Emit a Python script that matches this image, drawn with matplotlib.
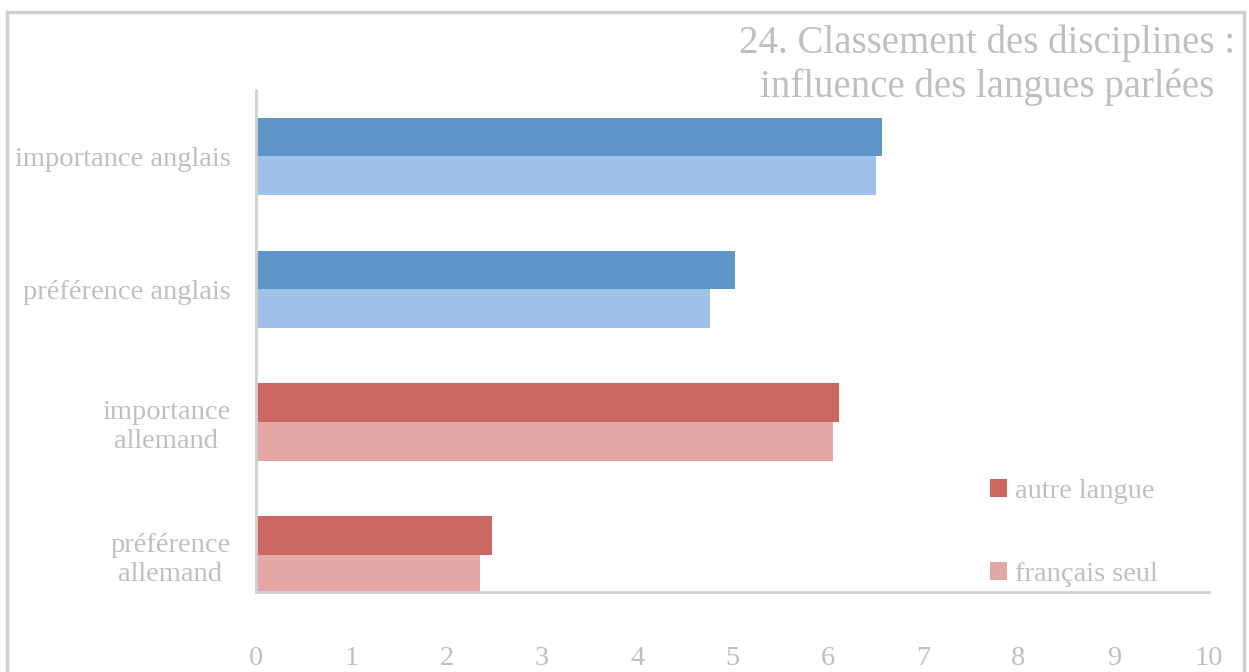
import matplotlib
matplotlib.use("Agg")
import matplotlib.pyplot as plt
from matplotlib.patches import Rectangle
import numpy as np

categories = ["préférence\nallemand", "importance\nallemand", "préférence anglais", "importance anglais"]
autre_langue = [2.48, 6.12, 5.03, 6.57]
francais_seul = [2.35, 6.05, 4.76, 6.51]
xticks = [0, 1, 2, 3, 4, 5, 6, 7, 8, 9, 10]
title = "24. Classement des disciplines :\ninfluence des langues parlées"

dark_colors = ["#cc6660", "#cc6660", "#5f96c8", "#5f96c8"]
light_colors = ["#e3a8a6", "#e3a8a6", "#a0c2e8", "#a0c2e8"]
text_color = "#bfbfbf"
spine_color = "#d0d0d0"

plt.rcParams["font.family"] = ["Liberation Serif", "DejaVu Serif"]

fig = plt.figure(figsize=(12.49, 6.72), dpi=100)
ax = fig.add_axes([256 / 1249, 1 - 592 / 672, 953 / 1249, 502 / 672])

y = np.arange(len(categories))
h = 0.29
bars_autre = ax.barh(y + h / 2, autre_langue, height=h, color=dark_colors, linewidth=0)
bars_fr = ax.barh(y - h / 2, francais_seul, height=h, color=light_colors, linewidth=0)

ax.set_xlim(0, 10)
ax.set_ylim(-0.28, 3.5)
ax.set_xticks(xticks)
ax.set_xticklabels([str(t) for t in xticks])
ax.set_yticks(y)
ax.set_yticklabels(categories, linespacing=1.2)
ax.tick_params(axis="x", length=0, pad=39, labelsize=20.5, labelcolor=text_color)
ax.tick_params(axis="y", length=0, pad=18.5, labelsize=20.5, labelcolor=text_color)
for lbl in ax.get_yticklabels():
    lbl.set_multialignment("center")

for side in ["top", "right"]:
    ax.spines[side].set_visible(False)
for side in ["left", "bottom"]:
    ax.spines[side].set_color(spine_color)
    ax.spines[side].set_linewidth(2)

fig.text(987 / 1249, 1 - 65 / 672, title, ha="center", va="center",
         fontsize=28, color=text_color, linespacing=1.22)

leg = ax.legend([bars_autre[0], bars_fr[0]], ["autre langue", "français seul"],
                loc="center left", bbox_to_anchor=(0.770, 0.118), frameon=False,
                fontsize=20.5, labelcolor=text_color, handlelength=0.6,
                handleheight=0.6, handletextpad=0.3, labelspacing=2.05,
                borderpad=0, borderaxespad=0)

fig.patches.append(Rectangle((7 / 1249, -0.05), 1237 / 1249, 1 - 12 / 672 + 0.05,
                             transform=fig.transFigure, fill=False,
                             edgecolor=spine_color, linewidth=2.5))

fig.savefig("out.png", dpi=100)
